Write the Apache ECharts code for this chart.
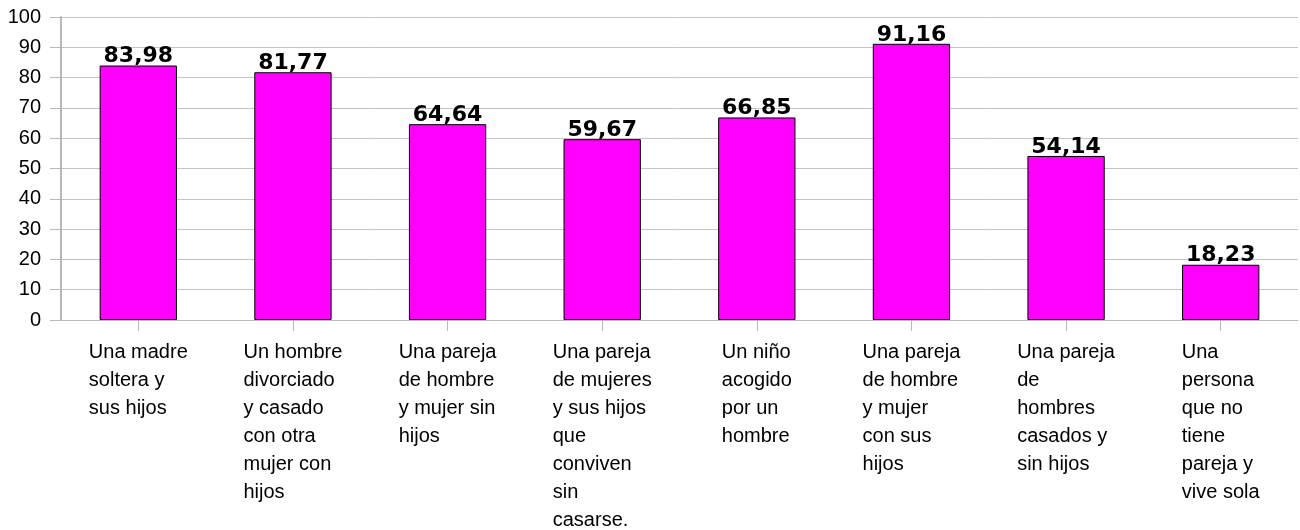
<!DOCTYPE html>
<html>
<head>
<meta charset="utf-8">
<script src="https://cdn.jsdelivr.net/npm/echarts@6/dist/echarts.min.js"></script>
<style>
  html, body { margin: 0; padding: 0; background: #fff; }
  #main { width: 1300px; height: 530px; }
</style>
</head>
<body>
<div id="main"></div>
<script>
  // categorías y valores
  var categories = [
    'Una madre\nsoltera y\nsus hijos',
    'Un hombre\ndivorciado\ny casado\ncon otra\nmujer con\nhijos',
    'Una pareja\nde hombre\ny mujer sin\nhijos',
    'Una pareja\nde mujeres\ny sus hijos\nque\nconviven\nsin\ncasarse.',
    'Un niño\nacogido\npor un\nhombre',
    'Una pareja\nde hombre\ny mujer\ncon sus\nhijos',
    'Una pareja\nde\nhombres\ncasados y\nsin hijos',
    'Una\npersona\nque no\ntiene\npareja y\nvive sola'
  ];
  var values = [83.98, 81.77, 64.64, 59.67, 66.85, 91.16, 54.14, 18.23];
  var yMin = 0, yMax = 100, yStep = 10;

  var chart = echarts.init(document.getElementById('main'));
  var option = {
    animation: false,
    grid: { left: 61, right: 2, top: 17, bottom: 210 },
    xAxis: {
      type: 'category',
      data: categories,
      axisLine: { lineStyle: { color: '#b8b8b8', width: 1 } },
      axisTick: { show: true, alignWithLabel: true, length: 11, lineStyle: { color: '#b8b8b8' } },
      axisLabel: {
        interval: 0,
        margin: 18,
        // bloque centrado, líneas alineadas a la izquierda
        formatter: function (v) { return '{a|' + v + '}'; },
        rich: {
          a: {
            align: 'left',
            fontFamily: 'Liberation Sans',
            fontSize: 20,
            lineHeight: 28,
            color: '#000'
          }
        }
      }
    },
    yAxis: {
      type: 'value',
      min: yMin,
      max: yMax,
      interval: yStep,
      axisLine: { show: true, lineStyle: { color: '#b8b8b8', width: 2 } },
      axisTick: { show: true, length: 11, lineStyle: { color: '#b8b8b8' } },
      axisLabel: { margin: 20, fontFamily: 'Liberation Sans', fontSize: 20, color: '#000' },
      splitLine: { lineStyle: { color: '#c4c4c4', width: 1 } }
    },
    series: [{
      type: 'bar',
      data: values,
      barWidth: '50%',
      itemStyle: { color: '#ff00ff', borderColor: '#000', borderWidth: 1 },
      label: {
        show: true,
        position: 'top',
        distance: -2,
        fontFamily: 'DejaVu Sans',
        fontWeight: 'bold',
        fontSize: 22,
        color: '#000',
        formatter: function (p) { return p.value.toFixed(2).replace('.', ','); }
      }
    }]
  };
  chart.setOption(option);
</script>
</body>
</html>
